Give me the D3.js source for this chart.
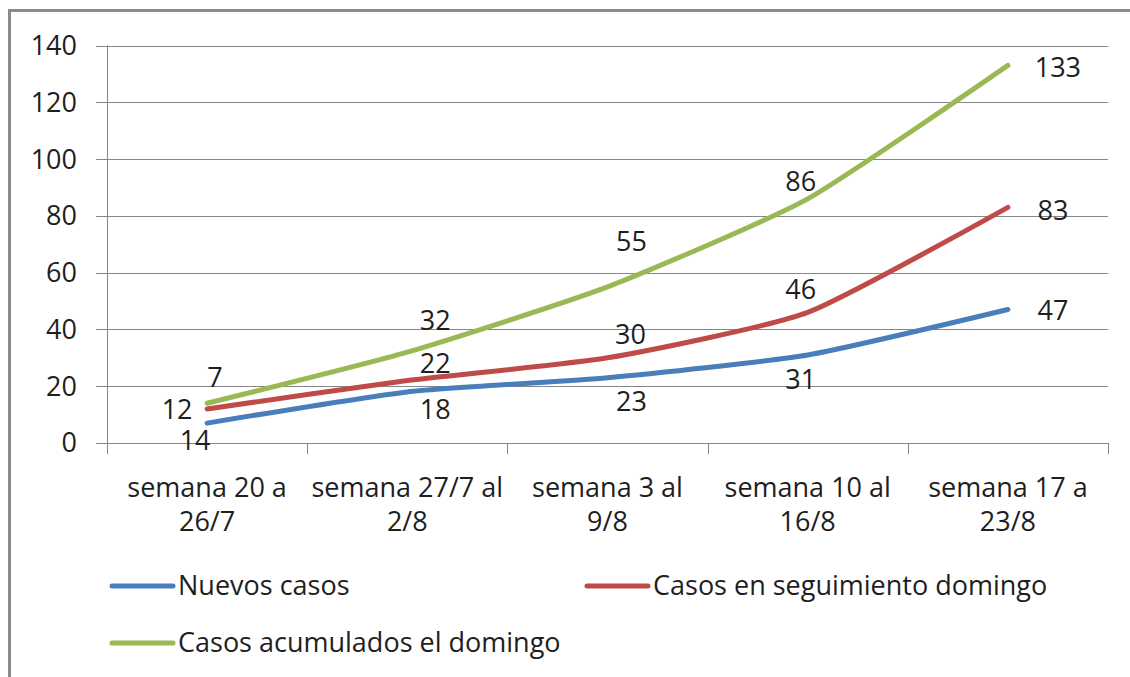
<!DOCTYPE html>
<html><head><meta charset="utf-8">
<script src="https://cdn.jsdelivr.net/npm/d3@7"></script>
<style>body{margin:0;background:#fff}svg{display:block}text{font-family:"Open Sans",sans-serif;fill:#1e1e1e}</style>
</head><body>
<svg id="c" width="1130" height="677"></svg>
<script>
const categories = [["semana 20 a","26/7"],["semana 27/7 al","2/8"],["semana 3 al","9/8"],["semana 10 al","16/8"],["semana 17 a","23/8"]];
const seriesNames = ["Nuevos casos","Casos en seguimiento domingo","Casos acumulados el domingo"];
const nuevosCasos = [7,18,23,31,47];
const enSeguimiento = [12,22,30,46,83];
const acumulados = [14,32,55,86,133];
// data label texts as shown in the chart
const nuevosLabels = ["14","18","23","31","47"];
const seguimientoLabels = ["12","22","30","46","83"];
const acumuladosLabels = ["7","32","55","86","133"];
const yTicks = [0,20,40,60,80,100,120,140];

const colors = ["#4A7EBB","#BE4B48","#98B954"];
const labelOffsets = [
  [[-12,17],[28,18],[24,24],[-7,25],[45,1]],
  [[-30,1],[28,-17],[23,-23],[-7,-23],[45,3]],
  [[8,-26],[28,-32],[24,-45],[-7,-17],[50,2]]
];
const series = [
  {name:seriesNames[0], values:nuevosCasos, labels:nuevosLabels},
  {name:seriesNames[1], values:enSeguimiento, labels:seguimientoLabels},
  {name:seriesNames[2], values:acumulados, labels:acumuladosLabels}
];

const svg = d3.select("#c");
svg.append("rect").attr("x",9.5).attr("y",10.5).attr("width",1140).attr("height",700)
  .attr("fill","none").attr("stroke","#8a8a8a").attr("stroke-width",3);

const L=107, R=1108, T=45.5, B=443;
const x = d3.scaleBand().domain(d3.range(categories.length)).range([L,R]);
const y = d3.scaleLinear().domain([0,140]).range([B,T]);
const fs = 27;

svg.append("g").selectAll("line").data(yTicks).join("line")
  .attr("x1",L-11).attr("x2",R).attr("y1",d=>Math.round(y(d))+0.5).attr("y2",d=>Math.round(y(d))+0.5)
  .attr("stroke","#868686").attr("stroke-width",1);
svg.append("line").attr("x1",L+0.5).attr("x2",L+0.5).attr("y1",T).attr("y2",B+11)
  .attr("stroke","#868686");
svg.append("g").selectAll("line").data(d3.range(categories.length+1)).join("line")
  .attr("x1",d=>Math.round(L+d*x.step())+0.5).attr("x2",d=>Math.round(L+d*x.step())+0.5)
  .attr("y1",B).attr("y2",B+11).attr("stroke","#868686");
svg.append("g").selectAll("text").data(yTicks).join("text")
  .attr("x",77).attr("y",d=>y(d)).attr("dy","0.35em").attr("text-anchor","end")
  .attr("font-size",fs).text(d=>d);
const xl = svg.append("g").selectAll("text").data(categories).join("text")
  .attr("x",(d,i)=>x(i)+x.bandwidth()/2).attr("y",497).attr("text-anchor","middle").attr("font-size",fs);
xl.selectAll("tspan").data(d=>d).join("tspan")
  .attr("x",function(){return this.parentNode.getAttribute("x");})
  .attr("dy",(d,i)=>i?34:0).text(d=>d);

const line = d3.line().x((d,i)=>x(i)+x.bandwidth()/2).y(d=>y(d)).curve(d3.curveCardinal.tension(0.45));
series.forEach((s,si)=>{
  svg.append("path").attr("d",line(s.values)).attr("fill","none")
    .attr("stroke",colors[si]).attr("stroke-width",5).attr("stroke-linecap","round").attr("stroke-linejoin","round");
});
series.forEach((s,si)=>{
  svg.append("g").selectAll("text").data(s.values).join("text")
    .attr("x",(d,i)=>x(i)+x.bandwidth()/2+labelOffsets[si][i][0])
    .attr("y",(d,i)=>y(d)+labelOffsets[si][i][1]).attr("dy","0.35em")
    .attr("text-anchor","middle").attr("font-size",fs).text((d,i)=>s.labels[i]);
});

const leg = [{x:110,y:586},{x:585,y:586},{x:110,y:643}];
series.forEach((s,si)=>{
  const g = svg.append("g").attr("transform",`translate(${leg[si].x},${leg[si].y})`);
  g.append("line").attr("x1",2).attr("x2",63).attr("stroke",colors[si]).attr("stroke-width",5).attr("stroke-linecap","round");
  g.append("text").attr("x",68).attr("dy","0.35em").attr("font-size",fs).text(s.name);
});
</script>
</body></html>
